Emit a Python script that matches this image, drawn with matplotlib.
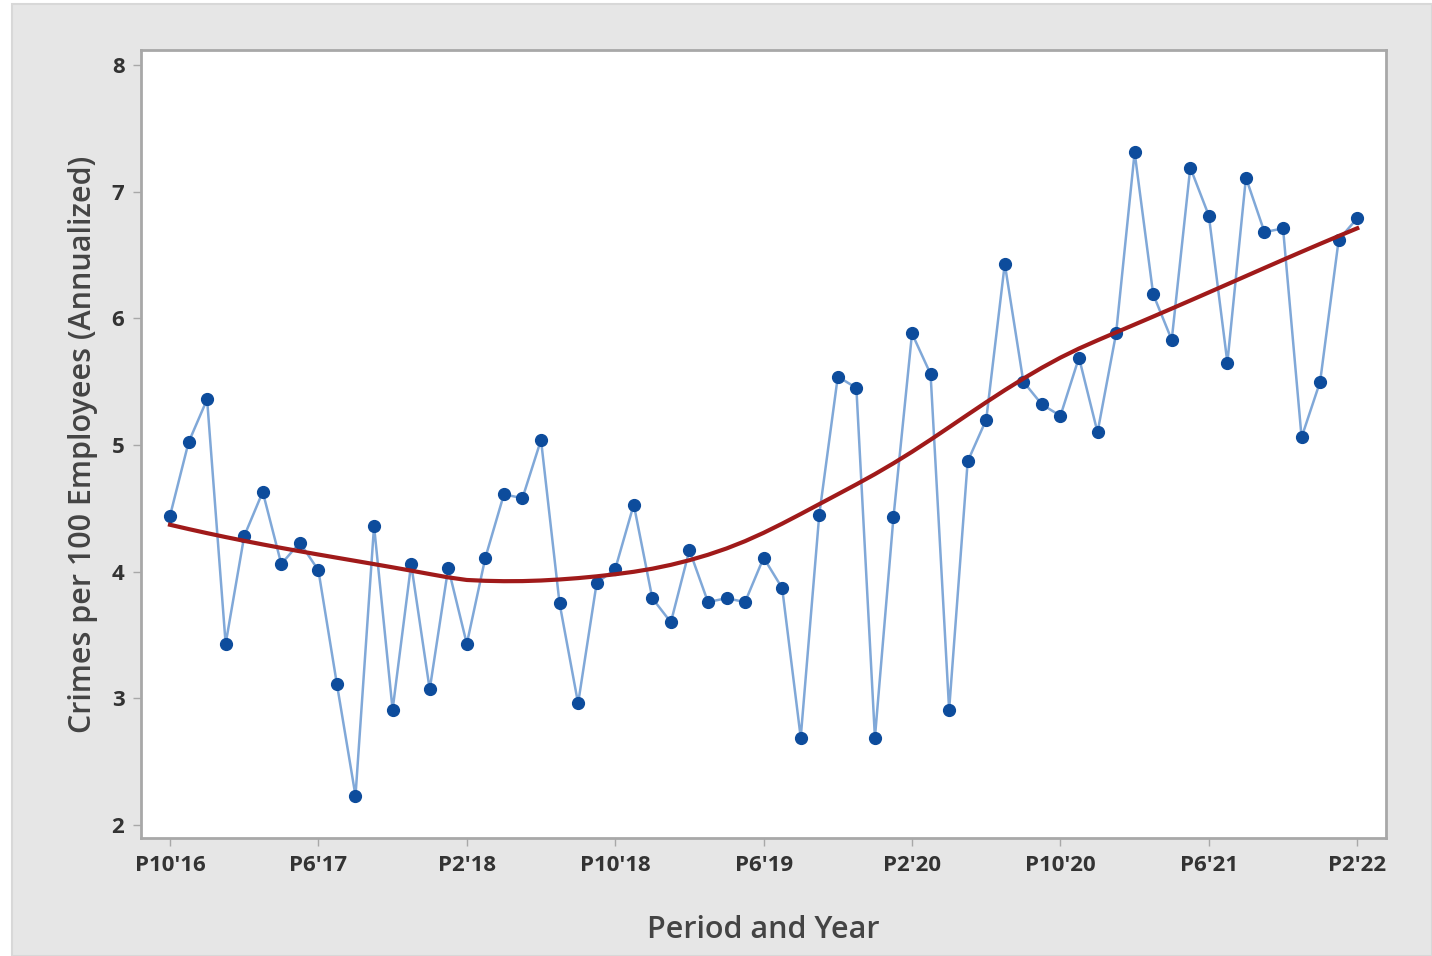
import numpy as np
import matplotlib.pyplot as plt
from matplotlib.patches import Rectangle

# crimes per 100 employees (annualized), one value per period, P10'16 .. P2'22
rate = [4.44, 5.02, 5.36, 3.43, 4.28, 4.63, 4.06, 4.23, 4.01, 3.11,
        2.23, 4.36, 2.91, 4.06, 3.07, 4.03, 3.43, 4.11, 4.61, 4.58,
        5.04, 3.75, 2.96, 3.91, 4.02, 4.53, 3.79, 3.60, 4.17, 3.76,
        3.79, 3.76, 4.11, 3.87, 2.69, 4.45, 5.54, 5.45, 2.69, 4.43,
        5.88, 5.56, 2.91, 4.87, 5.20, 6.43, 5.50, 5.32, 5.23, 5.69,
        5.10, 5.88, 7.31, 6.19, 5.83, 7.19, 6.81, 5.65, 7.11, 6.68,
        6.71, 5.06, 5.50, 6.62, 6.79]
tick_labels = ["P10'16", "P6'17", "P2'18", "P10'18", "P6'19",
               "P2'20", "P10'20", "P6'21", "P2'22"]
tick_step = 8


def lowess(x, y, frac=0.5, iters=2):
    # local linear smoother with tricube weights and bisquare robustness steps
    n = len(x)
    k = int(np.ceil(frac * n))
    fit = np.zeros(n)
    robust = np.ones(n)
    for _ in range(iters + 1):
        for i in range(n):
            d = np.abs(x - x[i])
            h = np.sort(d)[k - 1]
            w = np.clip(1 - (d / h) ** 3, 0, None) ** 3 * robust
            A = np.vstack([np.ones(n), x - x[i]]).T
            W = np.diag(w)
            beta = np.linalg.solve(A.T @ W @ A, A.T @ W @ y)
            fit[i] = beta[0]
        res = y - fit
        s = np.median(np.abs(res))
        robust = np.clip(1 - (res / (6 * s)) ** 2, 0, None) ** 2
    return fit


x = np.arange(len(rate), dtype=float)
y = np.array(rate)
trend = lowess(x, y)

fig = plt.figure(figsize=(14.32, 9.56), dpi=100)
fig.patch.set_facecolor('white')
bg = Rectangle((12 / 1432, 0), 1 - 12 / 1432, 1 - 4 / 956,
               transform=fig.transFigure, facecolor='#e6e6e6',
               edgecolor='#d8d8d8', lw=1.5, zorder=-10)
fig.add_artist(bg)

ax = fig.add_axes([0.0985, 0.1234, 0.8695, 0.8243])
ax.set_facecolor('white')
ax.plot(x, y, color='#80a8d8', lw=1.8, marker='o', ms=8.5,
        mfc='#0d4c9c', mec='#0d4c9c', zorder=3)
ax.plot(x, trend, color='#a01a1a', lw=3, zorder=4,
        solid_joinstyle='round')

ax.set_xlim(-1.56, 65.56)
ax.set_ylim(1.897, 8.118)
ax.set_xticks(x[::tick_step])
ax.set_xticklabels(tick_labels)
ax.set_yticks([2, 3, 4, 5, 6, 7, 8])

for sp in ax.spines.values():
    sp.set_color('#a8a8a8')
    sp.set_linewidth(2)
ax.tick_params(direction='out', length=6, width=1, color='#a8a8a8',
               labelsize=16, labelcolor='#333333', pad=6)
for lab in ax.get_xticklabels() + ax.get_yticklabels():
    lab.set_fontfamily('Open Sans')
    lab.set_fontweight('bold')

ax.set_xlabel('Period and Year', fontsize=22, color='#444444',
              family='Open Sans', fontweight='semibold', labelpad=28)
ax.set_ylabel('Crimes per 100 Employees (Annualized)', fontsize=22,
              color='#444444', family='Open Sans', fontweight='semibold',
              labelpad=10)

fig.savefig('out.png', dpi=100)
